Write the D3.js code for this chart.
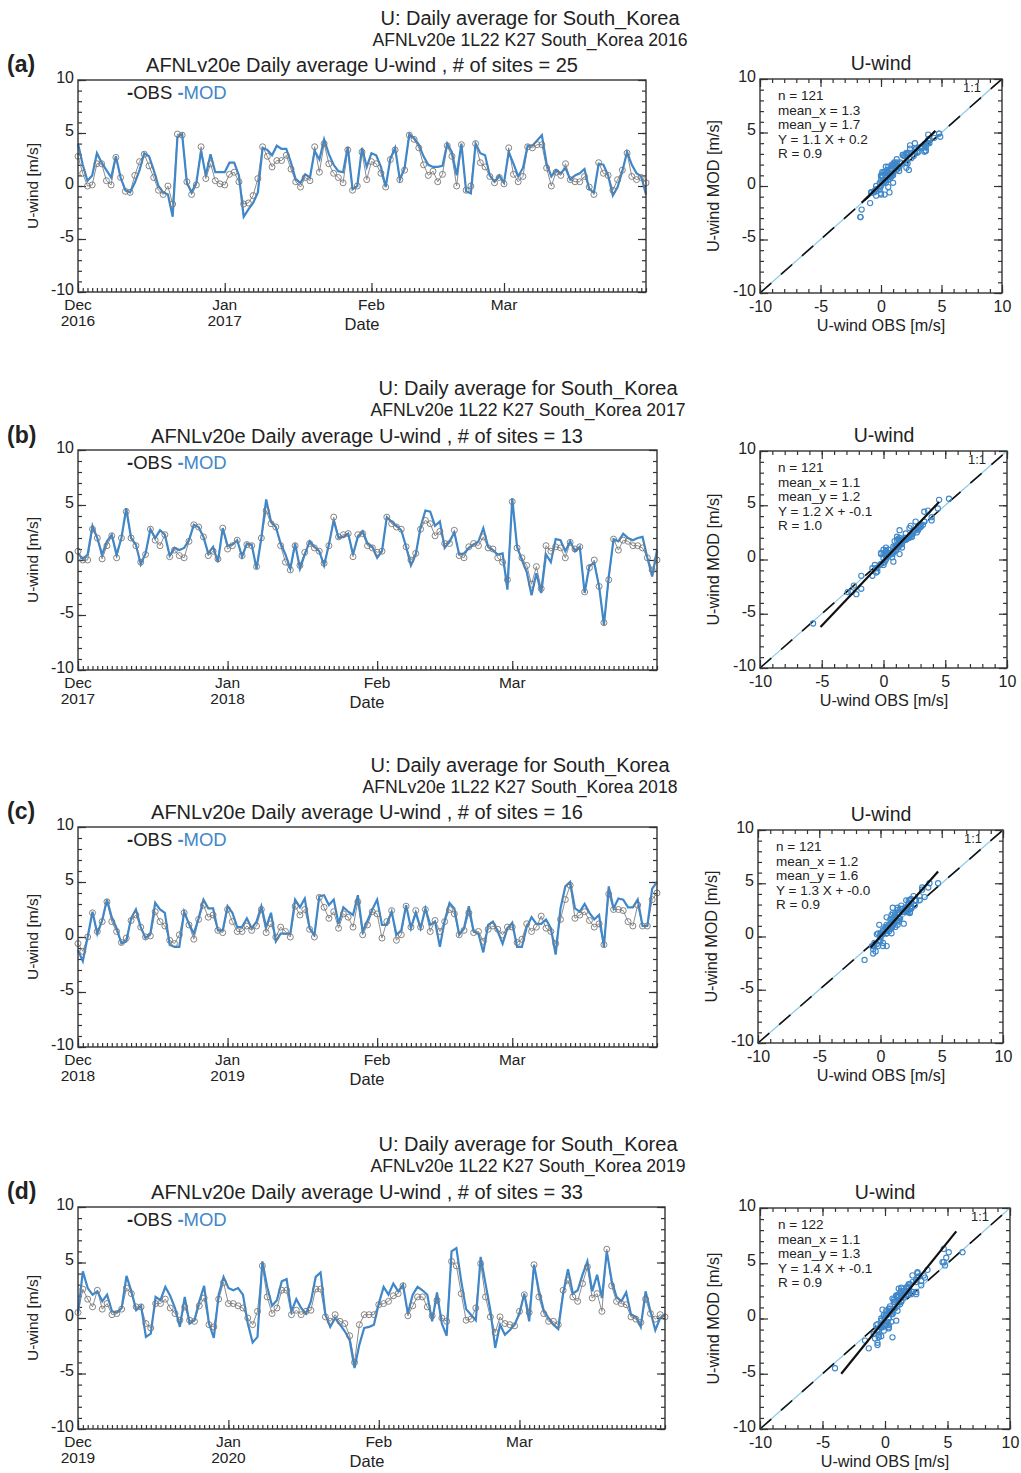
<!DOCTYPE html>
<html>
<head>
<meta charset="utf-8">
<script src="https://cdn.jsdelivr.net/npm/d3@7"></script>
<style>
body { margin: 0; background: #fff; }
text { font-family: "Liberation Sans", Arial, Helvetica, sans-serif; fill: #222; }
</style>
</head>
<body>
<script>
// daily averages, Dec 1 .. Mar 31
var obs2016 = [2.8,1.2,0.0,0.1,2.1,2.1,0.5,0.1,2.7,0.8,-0.5,-0.6,1.0,2.3,3.0,1.9,0.8,-0.4,-0.8,0.0,
  -1.7,4.9,4.8,0.4,-0.8,0.1,3.7,0.7,2.1,0.5,0.2,0.1,1.1,1.3,0.4,-1.7,-1.6,-0.9,0.7,3.7,
  2.8,1.8,2.4,2.4,2.9,1.6,0.4,-0.1,0.8,0.5,3.7,1.3,4.0,2.1,1.2,0.8,0.3,3.4,-0.4,0.0,
  3.2,0.6,2.3,2.1,1.2,-0.1,2.5,3.4,0.6,1.5,4.8,4.4,3.6,2.0,1.0,1.4,0.4,1.1,3.8,2.8,
  0.0,3.9,-0.4,0.0,4.0,2.2,1.8,0.9,0.3,0.8,0.2,3.6,1.1,0.4,0.9,3.7,3.6,3.9,3.9,1.7,
  0.0,1.3,1.0,2.1,0.6,0.4,0.4,0.9,-0.1,-0.8,2.2,1.2,1.0,-0.4,0.6,1.5,3.1,0.9,0.6,0.8,0.3];
var mod2016 = [4.0,2.0,0.5,1.0,3.1,2.2,1.5,0.8,2.8,0.8,-0.4,-0.6,0.3,1.5,3.1,2.8,1.5,0.0,-0.6,-0.8,
  -2.9,4.6,4.9,0.3,-0.6,0.3,3.3,1.0,3.0,1.3,1.3,1.3,2.2,2.2,1.0,-2.9,-2.2,-1.6,-0.6,3.6,
  3.4,2.9,3.8,3.5,3.5,2.2,0.6,0.3,1.1,0.8,3.3,2.5,4.4,3.0,2.0,1.4,1.3,3.7,-0.3,0.0,
  3.6,1.8,3.1,2.9,1.8,-0.1,2.6,3.6,0.6,1.7,4.9,4.5,3.9,2.8,2.0,1.8,1.8,1.9,4.0,3.2,
  1.0,4.0,-0.5,-0.7,4.0,3.1,2.9,1.0,0.4,1.0,0.3,3.2,2.1,0.9,1.7,3.8,3.8,4.3,4.8,2.1,
  0.9,1.5,1.2,1.7,0.6,1.0,1.2,1.6,-0.3,-0.6,2.1,2.0,1.0,-0.9,-0.1,1.4,3.2,2.0,1.2,0.9,-0.8];

var obs2017 = [0.8,0.0,0.0,2.8,2.0,0.1,1.3,2.2,0.2,2.0,4.4,2.0,1.3,-0.2,0.5,2.8,1.8,1.3,2.3,0.3,
  0.9,0.4,0.2,1.7,3.2,3.0,2.1,0.4,0.8,0.1,2.9,1.0,1.3,1.8,0.4,1.4,1.3,-0.6,2.0,4.5,
  3.3,3.0,1.3,-0.2,-0.9,1.3,-0.5,0.7,1.5,1.1,0.8,-0.3,1.3,3.9,2.1,2.3,2.4,0.3,2.3,2.4,
  1.3,1.1,0.7,0.8,3.9,3.3,3.0,2.8,1.2,0.0,0.6,2.8,3.6,3.3,2.2,2.6,1.5,1.5,2.7,0.4,
  0.2,1.2,1.5,1.3,2.1,1.1,1.0,0.2,-0.2,-1.8,5.3,1.1,0.2,-0.5,-2.2,-0.6,-2.6,1.3,0.8,1.2,
  1.1,0.2,1.6,1.0,1.2,-2.9,-0.7,0.0,-2.4,-5.7,-1.8,1.9,0.9,1.8,1.7,1.3,1.3,1.1,0.2,-0.9,0.0];
var mod2017 = [0.6,0.1,0.5,3.1,2.0,0.5,1.7,2.3,0.5,2.0,4.7,2.0,1.4,-0.4,0.6,2.8,2.0,2.7,2.3,0.4,
  1.1,0.9,1.1,1.8,3.2,3.0,2.1,0.6,1.2,-0.2,2.9,1.3,1.4,1.8,0.3,1.5,1.4,-0.8,2.0,5.5,
  3.5,3.0,1.5,0.5,-0.8,1.5,-0.8,0.5,1.7,1.2,0.8,-0.5,1.4,3.6,2.0,2.1,2.4,0.5,2.1,2.6,
  1.5,1.2,0.2,0.8,3.9,3.5,3.1,2.7,1.2,-0.5,0.5,3.0,4.5,4.4,3.1,3.5,1.1,1.7,2.5,0.5,
  0.6,1.1,1.4,1.7,2.9,1.2,0.9,0.5,0.6,-2.7,5.6,1.2,0.0,-1.1,-3.2,-1.2,-3.0,0.5,-0.2,1.9,
  1.8,0.8,1.7,0.8,1.2,-3.0,-0.5,-0.3,-2.4,-5.9,-1.5,1.9,1.7,2.4,2.0,1.8,2.0,2.1,0.2,-1.5,0.9];

var obs2018 = [-0.6,-1.3,0.0,2.2,0.5,1.4,3.2,1.4,0.5,-0.5,-0.1,1.5,2.0,0.9,0.0,0.1,2.3,1.4,1.0,-0.3,
  -0.6,0.2,2.2,1.1,-0.2,1.6,2.9,1.8,2.0,0.6,0.4,2.5,1.4,0.5,0.5,1.0,0.6,1.0,2.5,0.4,
  1.2,0.0,0.9,0.5,0.0,2.8,2.0,2.5,0.7,0.0,3.6,2.7,1.7,2.3,0.8,2.1,1.8,0.9,3.2,0.2,
  1.1,2.3,2.1,-0.1,1.4,2.4,-0.3,0.2,2.8,0.9,2.4,0.9,2.5,0.5,1.5,0.5,1.4,2.5,2.1,0.2,
  0.6,2.2,0.4,0.5,-0.4,0.7,1.0,0.7,0.2,0.9,0.9,-0.5,-0.2,1.2,0.5,0.9,1.9,0.8,0.5,-0.6,
  1.6,3.4,4.7,1.7,2.0,2.3,1.5,0.9,1.2,-0.7,3.9,2.5,2.5,2.4,1.4,1.0,2.9,1.0,1.0,3.4,4.0];
var mod2018 = [-1.2,-2.2,0.0,2.3,0.3,1.5,3.4,1.8,0.8,-0.6,-0.4,1.7,2.5,0.9,-0.1,0.3,3.1,2.5,2.2,-0.7,
  -0.9,-0.9,2.3,1.2,0.3,1.7,3.4,2.6,2.6,0.6,0.6,2.8,2.2,0.9,0.9,1.7,0.8,1.4,2.8,0.9,
  2.2,-0.4,0.3,0.3,0.3,3.4,2.7,3.5,0.8,0.2,3.7,3.8,2.9,3.4,1.2,2.7,2.3,2.0,3.8,0.5,
  1.5,2.5,3.4,1.1,1.1,2.3,0.2,0.6,2.9,0.8,2.2,0.8,2.6,1.1,1.4,-0.9,1.5,3.1,2.6,0.2,
  0.8,2.8,0.5,0.3,-1.4,1.1,1.4,0.5,-0.6,0.8,1.3,-0.9,-0.9,0.9,1.8,1.2,1.2,1.6,0.8,-1.6,
  2.6,4.6,5.0,2.6,2.3,3.0,2.2,1.6,2.0,-0.9,4.6,2.6,3.5,3.4,2.7,2.7,3.4,1.0,1.0,4.4,5.0];

// 2019-2020 winter has Feb 29, so 122 days
var obs2019 = [0.5,2.6,1.7,1.0,2.5,0.8,1.3,0.3,0.4,0.8,2.7,2.2,1.0,1.0,-0.5,-0.9,1.3,1.3,1.7,0.9,
  0.4,-0.2,1.0,-0.2,-0.3,1.1,1.8,-0.6,-0.8,1.7,3.2,1.3,1.3,1.1,0.9,0.0,-0.6,0.6,4.7,1.9,
  0.4,0.9,2.5,2.5,0.3,0.7,0.3,0.6,0.7,2.6,2.6,0.1,-0.3,0.3,-0.3,-0.5,-1.6,-4.0,-0.6,0.3,
  0.3,0.3,1.2,1.3,1.5,2.0,2.2,2.9,0.2,1.1,1.9,1.9,1.0,0.2,1.6,0.0,-0.3,5.1,4.7,2.2,
  -0.2,-0.1,0.9,4.9,1.9,0.1,-1.3,0.1,-0.5,-0.6,-0.7,0.6,2.1,0.5,4.8,1.9,0.4,-0.3,-0.3,-0.6,
  2.5,3.4,1.9,1.5,3.1,4.6,1.8,2.2,0.6,6.2,2.9,1.5,1.3,1.2,0.1,-0.1,-0.4,1.7,0.4,-0.1,0.3,0.1];
var mod2019 = [0.4,4.2,2.7,2.1,2.4,1.5,2.1,0.6,0.5,0.9,3.8,2.4,0.7,1.1,-1.7,-1.4,1.9,1.6,2.8,2.0,
  0.9,-0.8,1.9,-0.5,-0.2,1.5,2.9,-0.5,-1.8,2.1,3.7,2.7,2.5,2.7,2.1,-0.5,-2.2,-1.7,5.1,2.8,
  1.1,1.6,3.3,3.5,0.6,1.7,0.9,0.4,1.5,3.7,4.1,0.3,-0.8,0.0,-0.6,-1.2,-2.0,-4.5,-2.4,-0.9,
  -0.8,-0.6,1.3,2.8,2.1,3.1,2.4,3.0,0.4,2.1,2.8,2.5,2.1,-0.3,2.3,-0.5,-1.6,6.0,6.3,3.3,
  0.8,0.3,-0.2,5.5,3.1,0.7,-2.7,-0.6,-1.5,-1.1,-0.6,0.4,2.2,-0.3,4.8,2.5,0.7,0.0,-0.6,-1.0,
  2.2,4.4,2.2,2.5,3.9,5.1,2.4,3.9,1.8,6.0,3.4,1.9,1.5,2.3,0.3,0.1,-0.8,2.4,0.6,-1.1,0.0,0.3];

var startYears = [2016, 2017, 2018, 2019];
var obsSeries = [obs2016, obs2017, obs2018, obs2019];
var modSeries = [mod2016, mod2017, mod2018, mod2019];
var panelTags = ["(a)", "(b)", "(c)", "(d)"];
var siteCounts = [25, 13, 16, 33];

// statistics printed on the scatter plots
var nVals = [121, 121, 121, 122];
var meanX = ["1.3", "1.1", "1.2", "1.1"];
var meanY = ["1.7", "1.2", "1.6", "1.3"];
var slopes = [1.1, 1.2, 1.3, 1.4];
var intercepts = [0.2, -0.1, -0.0, -0.1];
var interceptText = ["0.2", "-0.1", "-0.0", "-0.1"];
var rVals = ["0.9", "1.0", "0.9", "0.9"];
var fitFrom = [-1.6, -5.1, -0.8, -3.5];
var fitTo = [4.5, 4.5, 4.7, 5.7];

var uTicks = [-10, -5, 0, 5, 10];

// page geometry per panel
var panels = [
  {ts: [78, 646, 80, 292],    sc: [760, 1002, 79, 293],    supX: 530, supY: 25,   titleX: 362, titleY: 72,   scX: 881},
  {ts: [78, 657, 450, 670],   sc: [760, 1007, 451, 668],   supX: 528, supY: 395,  titleX: 367, titleY: 443,  scX: 884},
  {ts: [78, 657, 827, 1047],  sc: [758, 1003, 830, 1043],  supX: 520, supY: 772,  titleX: 367, titleY: 819,  scX: 881},
  {ts: [78, 665, 1207, 1429], sc: [760, 1010, 1208, 1429], supX: 528, supY: 1151, titleX: 367, titleY: 1199, scX: 885}
];

var blue = "#3f87c9";
var gray = "#8c8c8c";
var frameColor = "#333";
var plain = function(d) { return String(d); };   // hyphen minus like the original

var svg = d3.select("body").append("svg")
  .attr("width", 1021)
  .attr("height", 1473);

function styleAxis(g) {
  g.select(".domain").remove();
  g.selectAll(".tick line").attr("stroke", frameColor).attr("stroke-width", 1.2);
  g.selectAll(".tick text").attr("fill", "#222").style("font-family", "Liberation Sans, Arial, sans-serif");
}

function drawPanel(k) {
  var p = panels[k];
  var yr = startYears[k];
  var obs = obsSeries[k], mod = modSeries[k];
  var start = new Date(yr, 11, 1);
  var dates = obs.map(function(d, i) { return d3.timeDay.offset(start, i); });
  var end = dates[dates.length - 1];

  // header text
  svg.append("text").attr("x", p.supX).attr("y", p.supY)
    .attr("text-anchor", "middle").attr("font-size", 20)
    .text("U: Daily average for South_Korea");
  svg.append("text").attr("x", p.supX).attr("y", p.supY + 21)
    .attr("text-anchor", "middle").attr("font-size", 17.6)
    .text("AFNLv20e 1L22 K27 South_Korea " + yr);
  svg.append("text").attr("x", 7).attr("y", p.titleY)
    .attr("font-size", 23).attr("font-weight", "bold")
    .text(panelTags[k]);
  svg.append("text").attr("x", p.titleX).attr("y", p.titleY)
    .attr("text-anchor", "middle").attr("font-size", 20)
    .text("AFNLv20e Daily average U-wind , # of sites = " + siteCounts[k]);

  // ---- time series ----
  var x = d3.scaleTime().domain([start, end]).range([p.ts[0], p.ts[1]]);
  var y = d3.scaleLinear().domain([-10, 10]).range([p.ts[3], p.ts[2]]);
  var g = svg.append("g");

  g.append("g").attr("transform", "translate(0," + p.ts[3] + ")")
    .call(d3.axisBottom(x).ticks(d3.timeDay.every(1)).tickSize(-4).tickFormat(""))
    .call(styleAxis);
  g.append("g").attr("transform", "translate(0," + p.ts[3] + ")")
    .call(d3.axisBottom(x).ticks(d3.timeMonth.every(1)).tickSize(-9).tickFormat(""))
    .call(styleAxis);
  g.append("g").attr("transform", "translate(" + p.ts[0] + ",0)")
    .call(d3.axisLeft(y).tickValues(d3.range(-10, 11)).tickSize(-4).tickFormat(""))
    .call(styleAxis);
  g.append("g").attr("transform", "translate(" + p.ts[0] + ",0)")
    .call(d3.axisLeft(y).tickValues(uTicks).tickSize(-8).tickPadding(4).tickFormat(plain))
    .call(styleAxis)
    .selectAll(".tick text").attr("font-size", 16).attr("dy", "0.15em");
  g.append("g").attr("transform", "translate(" + p.ts[1] + ",0)")
    .call(d3.axisRight(y).tickValues(d3.range(-10, 11)).tickSize(-4).tickFormat(""))
    .call(styleAxis);
  g.append("g").attr("transform", "translate(" + p.ts[1] + ",0)")
    .call(d3.axisRight(y).tickValues(uTicks).tickSize(-8).tickFormat(""))
    .call(styleAxis);

  // month labels
  var months = d3.timeMonth.range(start, end);
  months.forEach(function(m) {
    var mx = x(m);
    g.append("text").attr("x", mx).attr("y", p.ts[3] + 18)
      .attr("text-anchor", "middle").attr("font-size", 15.5)
      .text(d3.timeFormat("%b")(m));
    if (m.getMonth() == 11 || m.getMonth() == 0) {
      g.append("text").attr("x", mx).attr("y", p.ts[3] + 34)
        .attr("text-anchor", "middle").attr("font-size", 15.5)
        .text(m.getFullYear());
    }
  });
  g.append("text").attr("x", p.titleX).attr("y", p.ts[3] + 38)
    .attr("text-anchor", "middle").attr("font-size", 16.5).text("Date");
  g.append("text")
    .attr("transform", "translate(38," + ((p.ts[2] + p.ts[3]) / 2) + ") rotate(-90)")
    .attr("text-anchor", "middle").attr("font-size", 15.5).text("U-wind [m/s]");

  // lines
  var line = d3.line()
    .x(function(d, i) { return x(dates[i]); })
    .y(function(d) { return y(d); });
  g.append("path").datum(obs).attr("d", line)
    .attr("fill", "none").attr("stroke", gray).attr("stroke-width", 1);
  g.append("path").datum(mod).attr("d", line)
    .attr("fill", "none").attr("stroke", blue).attr("stroke-width", 2.2)
    .attr("stroke-linejoin", "miter");
  g.selectAll(".obsdot").data(obs).enter().append("circle")
    .attr("cx", function(d, i) { return x(dates[i]); })
    .attr("cy", function(d) { return y(d); })
    .attr("r", 3)
    .attr("fill", "none").attr("stroke", "#777").attr("stroke-width", 0.9);

  g.append("rect").attr("x", p.ts[0]).attr("y", p.ts[2])
    .attr("width", p.ts[1] - p.ts[0]).attr("height", p.ts[3] - p.ts[2])
    .attr("fill", "none").attr("stroke", frameColor).attr("stroke-width", 1.4);

  // legend
  var leg = g.append("text").attr("x", p.ts[0] + 49).attr("y", p.ts[2] + 19).attr("font-size", 18.5);
  leg.append("tspan").attr("font-weight", "bold").text("-");
  leg.append("tspan").text("OBS ");
  leg.append("tspan").attr("font-weight", "bold").style("fill", blue).text("-");
  leg.append("tspan").style("fill", blue).text("MOD");

  // ---- scatter ----
  var sx = d3.scaleLinear().domain([-10, 10]).range([p.sc[0], p.sc[1]]);
  var sy = d3.scaleLinear().domain([-10, 10]).range([p.sc[3], p.sc[2]]);
  var s = svg.append("g");

  [["bottom", p.sc[3], d3.axisBottom, sx], ["top", p.sc[2], d3.axisTop, sx]].forEach(function(a) {
    s.append("g").attr("transform", "translate(0," + a[1] + ")")
      .call(a[2](a[3]).tickValues(d3.range(-10, 11)).tickSize(-4).tickFormat(""))
      .call(styleAxis);
    var major = s.append("g").attr("transform", "translate(0," + a[1] + ")")
      .call(a[2](a[3]).tickValues(uTicks).tickSize(-8).tickPadding(8).tickFormat(plain))
      .call(styleAxis);
    major.selectAll(".tick text").attr("font-size", 16);
    if (a[0] == "top") major.selectAll(".tick text").remove();
  });
  [["left", p.sc[0], d3.axisLeft, sy], ["right", p.sc[1], d3.axisRight, sy]].forEach(function(a) {
    s.append("g").attr("transform", "translate(" + a[1] + ",0)")
      .call(a[2](a[3]).tickValues(d3.range(-10, 11)).tickSize(-4).tickFormat(""))
      .call(styleAxis);
    var major = s.append("g").attr("transform", "translate(" + a[1] + ",0)")
      .call(a[2](a[3]).tickValues(uTicks).tickSize(-8).tickPadding(4).tickFormat(plain))
      .call(styleAxis);
    major.selectAll(".tick text").attr("font-size", 16).attr("dy", "0.15em");
    if (a[0] == "right") major.selectAll(".tick text").remove();
  });

  // 1:1 line, light blue with long black dashes
  s.append("line")
    .attr("x1", sx(-10)).attr("y1", sy(-10)).attr("x2", sx(10)).attr("y2", sy(10))
    .attr("stroke", "#8fcbe8").attr("stroke-width", 1.3);
  s.append("line")
    .attr("x1", sx(-10)).attr("y1", sy(-10)).attr("x2", sx(10)).attr("y2", sy(10))
    .attr("stroke", "#111").attr("stroke-width", 1.6).attr("stroke-dasharray", "15,13");

  s.selectAll(".pt").data(obs).enter().append("circle")
    .attr("cx", function(d) { return sx(d); })
    .attr("cy", function(d, i) { return sy(mod[i]); })
    .attr("r", 2.6)
    .attr("fill", "none").attr("stroke", blue).attr("stroke-width", 1.1);

  // regression line
  s.append("line")
    .attr("x1", sx(fitFrom[k])).attr("y1", sy(slopes[k] * fitFrom[k] + intercepts[k]))
    .attr("x2", sx(fitTo[k])).attr("y2", sy(slopes[k] * fitTo[k] + intercepts[k]))
    .attr("stroke", "#111").attr("stroke-width", 2.2);

  s.append("rect").attr("x", p.sc[0]).attr("y", p.sc[2])
    .attr("width", p.sc[1] - p.sc[0]).attr("height", p.sc[3] - p.sc[2])
    .attr("fill", "none").attr("stroke", frameColor).attr("stroke-width", 1.4);

  s.append("text").attr("x", p.scX).attr("y", p.sc[2] - 9)
    .attr("text-anchor", "middle").attr("font-size", 19.5).text("U-wind");
  s.append("text").attr("x", p.scX).attr("y", p.sc[3] + 38)
    .attr("text-anchor", "middle").attr("font-size", 16.2).text("U-wind OBS [m/s]");
  s.append("text")
    .attr("transform", "translate(" + (p.sc[0] - 41) + "," + ((p.sc[2] + p.sc[3]) / 2) + ") rotate(-90)")
    .attr("text-anchor", "middle").attr("font-size", 16.2).text("U-wind MOD [m/s]");
  s.append("text").attr("x", p.sc[1] - 21).attr("y", p.sc[2] + 13)
    .attr("text-anchor", "end").attr("font-size", 13).text("1:1");

  var stats = ["n = " + nVals[k], "mean_x = " + meanX[k], "mean_y = " + meanY[k],
    "Y = " + slopes[k].toFixed(1) + " X + " + interceptText[k], "R = " + rVals[k]];
  stats.forEach(function(t, j) {
    s.append("text").attr("x", p.sc[0] + 18).attr("y", p.sc[2] + 21 + j * 14.6)
      .attr("font-size", 13.5).text(t);
  });
}

for (var k = 0; k < 4; k++) drawPanel(k);
</script>
</body>
</html>
